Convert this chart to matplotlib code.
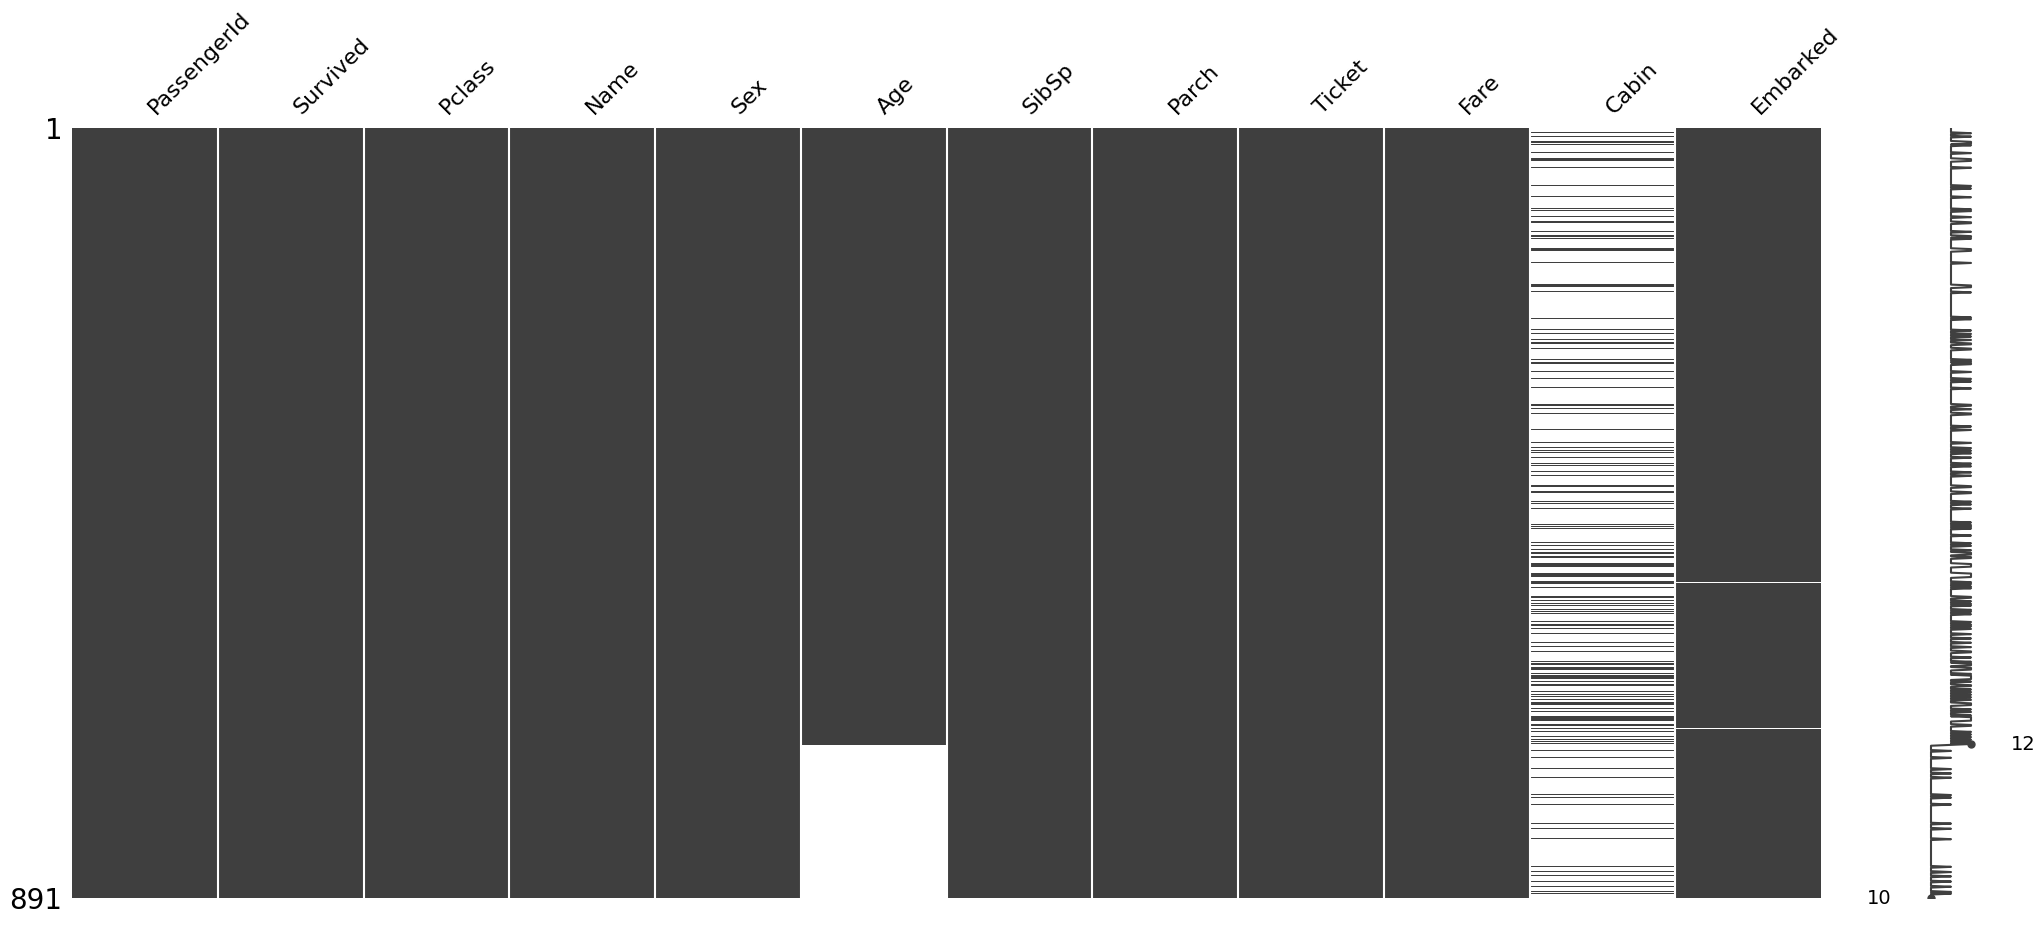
import numpy as np
import matplotlib
matplotlib.use("Agg")
from matplotlib import pyplot as plt

# Titanic columns, rows sorted by Age (missing ages at the bottom)
columns = ["PassengerId", "Survived", "Pclass", "Name", "Sex", "Age",
           "SibSp", "Parch", "Ticket", "Fare", "Cabin", "Embarked"]
n_rows = 891
age_known_rows = 714          # Age present for the first 714 rows
embarked_missing_rows = [526, 695]

# rows (in sorted order) where Cabin is filled
cabin_rows = [
    6, 10, 16, 17, 18, 20, 29, 36, 37, 38, 46, 67, 70, 80, 94, 96, 103, 109, 110,
    120, 125, 126, 128, 140, 141, 142,
    156, 182, 183, 184, 190, 219, 221, 234, 238, 241, 245, 249, 250, 255, 256,
    268, 270, 272, 273, 282, 290, 293,
    301, 320, 321, 325, 330, 331, 345, 349, 364, 370, 373, 376, 381, 388, 391,
    398, 402, 414, 415, 421, 422, 432, 435, 440,
    456, 459, 461, 463, 471, 480, 483, 488, 491, 492, 493, 496, 497, 504, 505,
    506, 507, 515, 516, 517, 518, 519, 525, 526, 527, 530, 532, 542, 543, 547,
    550, 552, 557, 559, 562, 571, 574, 576, 579, 585, 590, 595,
    600, 605, 606, 612, 617, 619, 620, 621, 624, 625, 626, 631, 633, 634, 635,
    636, 637, 640, 644, 645, 649, 652, 655, 658, 661, 665, 666, 667, 672, 675,
    679, 681, 682, 683, 684, 685, 690, 691, 695, 698, 701, 704, 707, 710, 712,
    720, 728, 741, 746, 751, 771, 774, 782, 804, 810, 822, 854, 860, 865, 871,
    877, 883, 885,
]

# build the not-null mask
mask = np.ones((n_rows, len(columns)), dtype=bool)
mask[age_known_rows:, columns.index("Age")] = False
mask[:, columns.index("Cabin")] = False
mask[cabin_rows, columns.index("Cabin")] = True
mask[embarked_missing_rows, columns.index("Embarked")] = False

color = (0.25, 0.25, 0.25)
g = np.ones((n_rows, len(columns), 3))
g[mask] = color

W, H = 2044, 925
fig = plt.figure(figsize=(W / 100, H / 100), dpi=100)

m_left, m_right, m_top, m_bottom = 72, 1821, 128, 898
ax0 = fig.add_axes([m_left / W, 1 - m_bottom / H, (m_right - m_left) / W, (m_bottom - m_top) / H])
s_left, s_right = 1891, 2011
ax1 = fig.add_axes([s_left / W, 1 - m_bottom / H, (s_right - s_left) / W, (m_bottom - m_top) / H])

ax0.imshow(g, interpolation="none", aspect="auto")
ax0.grid(False)
ax0.xaxis.tick_top()
ax0.xaxis.set_ticks_position("none")
ax0.yaxis.set_ticks_position("none")
for s in ax0.spines.values():
    s.set_visible(False)
ax0.set_xticks(range(len(columns)))
ax0.set_xticklabels(columns, rotation=45, ha="left", fontsize=16)
ax0.set_yticks([0, n_rows - 1])
ax0.set_yticklabels([1, n_rows], fontsize=20)
for x in range(len(columns) - 1):
    ax0.axvline(x + 0.5, linestyle="-", color="white")

# sparkline of row completeness
completeness = mask.sum(axis=1)
x_domain = list(range(n_rows))
y_range = list(reversed(completeness.tolist()))
cmin, cmax = min(y_range), max(y_range)
imin, imax = y_range.index(cmin), y_range.index(cmax)

for s in ax1.spines.values():
    s.set_visible(False)
ax1.set_ymargin(0)
ax1.plot(y_range, x_domain, color=color)
ax1.set_xticks([])
ax1.set_yticks([])
ax1.annotate(cmax, xy=(cmax, imax), xytext=(cmax + 2, imax), fontsize=14, va="center", ha="left")
ax1.annotate(cmin, xy=(cmin, imin), xytext=(cmin - 2, imin), fontsize=14, va="center", ha="right")
ax1.set_xlim([cmin - 2, cmax + 2])
ax1.plot([cmin], [imin], ".", color=color, markersize=10.0)
ax1.plot([cmax], [imax], ".", color=color, markersize=10.0)
ax1.set_ylim(0, n_rows - 1)

fig.savefig("out.png", dpi=100)
